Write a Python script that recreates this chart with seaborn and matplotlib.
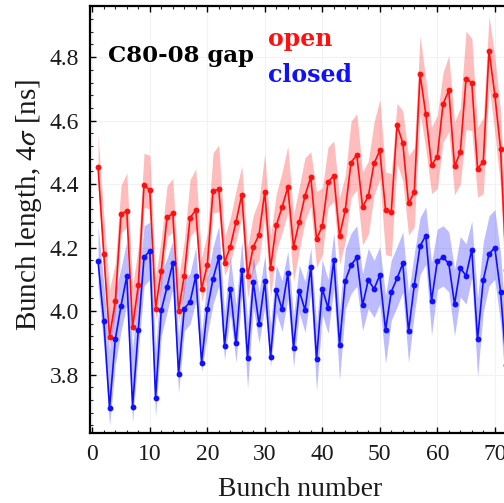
import numpy as np
import pandas as pd
import matplotlib
matplotlib.use("Agg")
import matplotlib.pyplot as plt
from matplotlib.ticker import MultipleLocator, FormatStrFormatter
import seaborn as sns

# Bunch-by-bunch 4-sigma bunch length, C80-08 gap open vs closed
bunch = list(range(1, 73))

open_len = [4.454, 4.179, 3.919, 4.031, 4.306, 4.315, 3.949, 4.081, 4.397, 4.381,
            4.008, 4.127, 4.295, 4.308, 4.001, 4.112, 4.294, 4.318, 4.069, 4.145,
            4.379, 4.383, 4.152, 4.203, 4.281, 4.367, 4.111, 4.202, 4.241, 4.376,
            4.135, 4.270, 4.327, 4.390, 4.203, 4.282, 4.364, 4.422, 4.227, 4.268,
            4.407, 4.426, 4.237, 4.318, 4.468, 4.492, 4.328, 4.362, 4.465, 4.506,
            4.318, 4.313, 4.585, 4.530, 4.339, 4.375, 4.747, 4.620, 4.460, 4.486,
            4.652, 4.695, 4.456, 4.500, 4.732, 4.719, 4.449, 4.470, 4.820, 4.682,
            4.512, 4.130]

closed_len = [4.157, 3.969, 3.695, 3.911, 4.017, 4.110, 3.699, 3.940, 4.169, 4.190,
              3.727, 4.003, 4.076, 4.151, 3.802, 4.008, 4.029, 4.111, 3.838, 4.006,
              4.102, 4.169, 3.891, 4.071, 3.898, 4.131, 3.853, 4.092, 3.959, 4.094,
              3.855, 4.065, 4.006, 4.119, 3.884, 4.064, 4.003, 4.138, 3.849, 4.070,
              4.010, 4.161, 3.893, 4.096, 4.145, 4.169, 4.018, 4.098, 4.070, 4.113,
              3.940, 4.061, 4.103, 4.150, 3.937, 4.081, 4.205, 4.238, 4.032, 4.158,
              4.169, 4.150, 4.022, 4.135, 4.112, 4.194, 3.911, 4.098, 4.180, 4.200,
              4.061, 3.830]

# spread above / below each bunch value
open_hi = [0.10, 0.12, 0.15, 0.12, 0.09, 0.12, 0.13, 0.12, 0.10, 0.11,
           0.10, 0.10, 0.10, 0.11, 0.10, 0.11, 0.12, 0.13, 0.10, 0.10,
           0.12, 0.14, 0.08, 0.09, 0.10, 0.09, 0.09, 0.10, 0.11, 0.12,
           0.10, 0.10, 0.11, 0.13, 0.10, 0.11, 0.12, 0.08, 0.15, 0.12,
           0.11, 0.11, 0.12, 0.11, 0.13, 0.13, 0.11, 0.11, 0.13, 0.16,
           0.12, 0.12, 0.07, 0.10, 0.15, 0.14, 0.12, 0.11, 0.12, 0.13,
           0.10, 0.11, 0.14, 0.14, 0.15, 0.14, 0.13, 0.14, 0.11, 0.12,
           0.12, 0.12]
open_lo = [0.06, 0.05, 0.03, 0.04, 0.06, 0.05, 0.03, 0.04, 0.07, 0.06,
           0.04, 0.05, 0.06, 0.06, 0.04, 0.05, 0.06, 0.06, 0.04, 0.05,
           0.07, 0.07, 0.04, 0.05, 0.06, 0.07, 0.07, 0.07, 0.08, 0.08,
           0.09, 0.08, 0.08, 0.08, 0.11, 0.09, 0.08, 0.09, 0.09, 0.09,
           0.08, 0.08, 0.09, 0.10, 0.11, 0.11, 0.12, 0.12, 0.10, 0.09,
           0.14, 0.14, 0.12, 0.12, 0.10, 0.11, 0.12, 0.11, 0.09, 0.10,
           0.12, 0.13, 0.09, 0.10, 0.16, 0.15, 0.09, 0.10, 0.11, 0.12,
           0.12, 0.12]
closed_hi = [0.11, 0.12, 0.18, 0.15, 0.12, 0.11, 0.18, 0.15, 0.10, 0.09,
             0.15, 0.12, 0.09, 0.07, 0.12, 0.09, 0.09, 0.09, 0.09, 0.10,
             0.10, 0.10, 0.10, 0.10, 0.12, 0.09, 0.11, 0.08, 0.10, 0.08,
             0.10, 0.08, 0.09, 0.07, 0.10, 0.08, 0.09, 0.06, 0.11, 0.09,
             0.09, 0.085, 0.11, 0.10, 0.10, 0.10, 0.10, 0.10, 0.09, 0.09,
             0.11, 0.10, 0.10, 0.10, 0.12, 0.10, 0.09, 0.09, 0.12, 0.10,
             0.10, 0.10, 0.11, 0.10, 0.10, 0.09, 0.13, 0.12, 0.12, 0.12,
             0.12, 0.12]
closed_lo = [0.08, 0.08, 0.055, 0.08, 0.08, 0.09, 0.05, 0.07, 0.09, 0.09,
             0.06, 0.08, 0.08, 0.08, 0.06, 0.07, 0.07, 0.08, 0.03, 0.08,
             0.08, 0.09, 0.045, 0.08, 0.06, 0.08, 0.096, 0.08, 0.06, 0.08,
             0.03, 0.07, 0.07, 0.08, 0.06, 0.07, 0.07, 0.08, 0.10, 0.08,
             0.08, 0.09, 0.11, 0.09, 0.09, 0.09, 0.08, 0.09, 0.09, 0.09,
             0.105, 0.09, 0.09, 0.09, 0.10, 0.09, 0.09, 0.09, 0.108, 0.09,
             0.09, 0.09, 0.10, 0.09, 0.09, 0.09, 0.118, 0.10, 0.10, 0.10,
             0.10, 0.10]

series_names = ["open", "closed"]
series_colors = {"open": "#ff1010", "closed": "#1010ff"}

df = pd.concat([
    pd.DataFrame({"bunch": bunch, "length": open_len, "hi": open_hi,
                  "lo": open_lo, "gap": "open"}),
    pd.DataFrame({"bunch": bunch, "length": closed_len, "hi": closed_hi,
                  "lo": closed_lo, "gap": "closed"}),
], ignore_index=True)

sns.set_theme(style="white")
plt.rcParams["font.family"] = ["Liberation Serif", "DejaVu Serif"]
plt.rcParams["mathtext.fontset"] = "stix"

W, H = 504, 503
fig = plt.figure(figsize=(W / 100, H / 100), dpi=100)
ax = fig.add_axes([90 / W, 70 / H, 414 / W, 427 / H])

# shaded spread bands
for name in series_names:
    d = df[df["gap"] == name]
    ax.fill_between(d["bunch"], d["length"] - d["lo"], d["length"] + d["hi"],
                    color=series_colors[name], alpha=0.28, linewidth=0,
                    zorder=1)

sns.lineplot(data=df, x="bunch", y="length", hue="gap",
             hue_order=series_names, palette=series_colors,
             marker="o", markersize=4.2, markeredgewidth=0, linewidth=1.2,
             legend=False, ax=ax, zorder=3)

ax.set_xlim(-0.4, 71.6)
ax.set_ylim(3.616, 4.961)

ax.xaxis.set_major_locator(MultipleLocator(10))
ax.xaxis.set_minor_locator(MultipleLocator(2))
ax.yaxis.set_major_locator(MultipleLocator(0.2))
ax.yaxis.set_minor_locator(MultipleLocator(0.04))
ax.yaxis.set_major_formatter(FormatStrFormatter("%.1f"))

ax.grid(True, which="major", color="#f2f2f2", linewidth=0.8, zorder=0)
ax.tick_params(axis="both", which="major", direction="in", length=4.5,
               width=1.0, top=True, right=False, labelsize=17, pad=8,
               colors="black", labelcolor="#1a1a1a")
ax.tick_params(axis="both", which="minor", direction="in", length=2.5,
               width=0.8, top=True, right=False)
ax.tick_params(axis="x", which="both", bottom=True)
ax.tick_params(axis="y", which="both", left=True)

for side in ["left", "bottom", "top"]:
    ax.spines[side].set_visible(True)
    ax.spines[side].set_color("black")
    ax.spines[side].set_linewidth(1.6)
ax.spines["right"].set_visible(False)

ax.set_xlabel("")
ax.set_ylabel("")
fig.text(300 / W, 1 - 490 / H, "Bunch number", fontsize=20,
         color="#1a1a1a", ha="center", va="center")
fig.text(29 / W, 1 - 205 / H, "Bunch length, 4$\\sigma$ [ns]", fontsize=21,
         color="#1a1a1a", ha="center", va="center", rotation=90)

fig.text(108 / W, 1 - 62 / H, "C80-08 gap", fontsize=16.5,
         fontweight="bold", family="DejaVu Serif", color="black",
         va="baseline", ha="left")
fig.text(268 / W, 1 - 46 / H, "open", fontsize=17,
         fontweight="bold", family="DejaVu Serif",
         color=series_colors["open"], va="baseline", ha="left")
fig.text(268 / W, 1 - 82 / H, "closed", fontsize=17,
         fontweight="bold", family="DejaVu Serif",
         color=series_colors["closed"], va="baseline", ha="left")

fig.savefig("out.png", dpi=100)
